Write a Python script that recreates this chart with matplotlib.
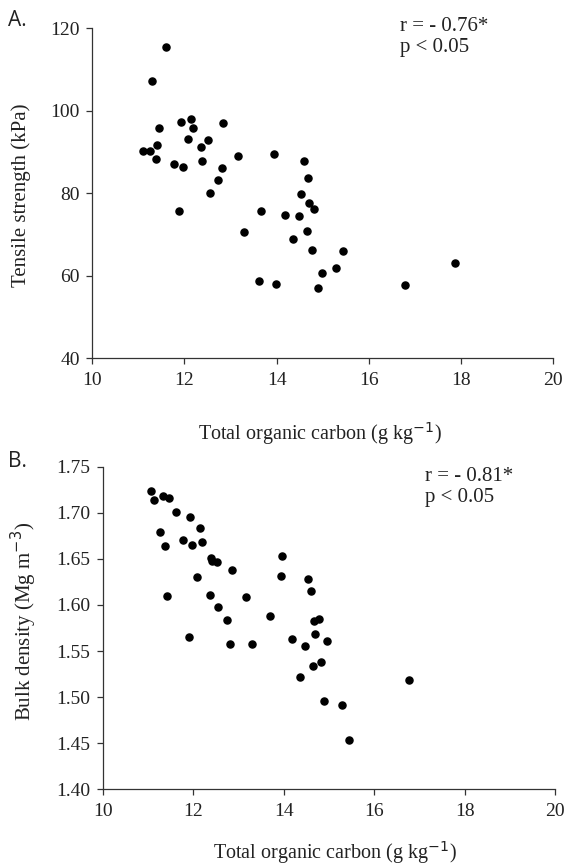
import numpy as np
import matplotlib
matplotlib.use("Agg")
import matplotlib.pyplot as plt

# Panel A: tensile strength vs total organic carbon
toc_a = [11.60, 11.30, 11.45, 11.92, 12.15, 12.18, 12.84, 12.08, 12.52, 12.36,
         11.40, 11.11, 11.26, 11.38, 11.77, 11.97, 12.39, 13.16, 12.81, 12.73,
         12.55, 13.95, 14.60, 14.67, 14.52, 14.69, 14.81, 11.89, 13.67, 14.19,
         14.48, 14.65, 13.30, 14.35, 14.77, 15.43, 15.28, 14.98, 13.62, 13.98,
         14.89, 17.87, 16.78]
tensile = [115.4, 107.3, 95.8, 97.3, 97.9, 95.8, 97.1, 93.2, 92.9, 91.3,
           91.8, 90.3, 90.3, 88.4, 87.2, 86.4, 87.8, 89.0, 86.1, 83.3,
           80.1, 89.5, 87.8, 83.6, 79.8, 77.7, 76.1, 75.8, 75.8, 74.7,
           74.6, 70.9, 70.5, 69.0, 66.2, 66.0, 61.8, 60.6, 58.8, 58.1,
           57.0, 63.2, 57.8]

# Panel B: bulk density vs total organic carbon
toc_b = [11.07, 11.13, 11.33, 11.46, 11.61, 11.93, 12.15, 11.26, 11.78, 11.98,
         12.19, 11.38, 12.39, 12.42, 12.52, 12.86, 12.09, 13.96, 13.95, 14.53,
         14.60, 11.42, 12.37, 13.16, 12.56, 13.69, 12.74, 14.67, 14.78, 14.70,
         11.90, 14.19, 12.82, 13.31, 14.48, 14.97, 14.82, 14.65, 14.36, 14.90,
         15.29, 15.44, 16.78]
bulk = [1.724, 1.714, 1.718, 1.716, 1.701, 1.695, 1.683, 1.679, 1.670, 1.665,
        1.668, 1.664, 1.651, 1.648, 1.647, 1.638, 1.630, 1.653, 1.631, 1.628,
        1.615, 1.610, 1.611, 1.609, 1.598, 1.588, 1.584, 1.583, 1.585, 1.569,
        1.565, 1.563, 1.558, 1.558, 1.556, 1.561, 1.538, 1.534, 1.522, 1.496,
        1.492, 1.453, 1.519]

x_ticks = [10, 12, 14, 16, 18, 20]
a_ticks = [40, 60, 80, 100, 120]
b_ticks = [1.40, 1.45, 1.50, 1.55, 1.60, 1.65, 1.70, 1.75]

plt.rcParams['font.family'] = ['Liberation Serif', 'DejaVu Serif']
txt = '#222222'

fig = plt.figure(figsize=(5.68, 8.67), dpi=100)
ax1 = fig.add_axes([0.1625, 0.5867, 0.8116, 0.3807])
ax2 = fig.add_axes([0.1808, 0.0896, 0.7963, 0.3721])

def style(ax):
    for s in ['top', 'right']:
        ax.spines[s].set_visible(False)
    for s in ['left', 'bottom']:
        ax.spines[s].set_color('#333333')
        ax.spines[s].set_linewidth(0.9)
    ax.tick_params(direction='out', length=4, width=0.9, color='#333333',
                   labelsize=14, labelcolor=txt)
    ax.tick_params(axis='x', pad=6)
    ax.tick_params(axis='y', pad=5)

ax1.scatter(toc_a, tensile, s=26, color='black', zorder=3)
ax1.set_xlim(10, 20)
ax1.set_ylim(40, 120)
ax1.set_xticks(x_ticks)
ax1.set_yticks(a_ticks)
style(ax1)
ax1.set_xlabel('Total organic carbon (g kg$^{-1}$)', fontsize=14.5, color=txt)
ax1.xaxis.set_label_coords(0.494, -0.187)
ax1.set_ylabel('Tensile strength (kPa)', fontsize=15, color=txt)
ax1.yaxis.set_label_coords(-0.133, 0.495)
ax1.text(0.667, 1.034, 'r = - 0.76*\np < 0.05', transform=ax1.transAxes,
         fontsize=15, color=txt, va='top', ha='left', linespacing=1.15)

ax2.scatter(toc_b, bulk, s=26, color='black', zorder=3)
ax2.set_xlim(10, 20)
ax2.set_ylim(1.40, 1.75)
ax2.set_xticks(x_ticks)
ax2.set_yticks(b_ticks)
ax2.set_yticklabels([f'{t:.2f}' for t in b_ticks])
style(ax2)
ax2.set_xlabel('Total organic carbon (g kg$^{-1}$)', fontsize=14.5, color=txt)
ax2.xaxis.set_label_coords(0.514, -0.153)
ax2.set_ylabel('Bulk density (Mg m$^{-3}$)', fontsize=15, color=txt)
ax2.yaxis.set_label_coords(-0.141, 0.52)
ax2.text(0.713, 1.0, 'r = - 0.81*\np < 0.05', transform=ax2.transAxes,
         fontsize=15, color=txt, va='top', ha='left', linespacing=1.15)

fig.text(0.014, 0.976, 'A.', fontsize=15, family='Open Sans', color='#222222', va='center')
fig.text(0.014, 0.468, 'B.', fontsize=15, family='Open Sans', color='#222222', va='center')

fig.savefig('out.png', dpi=100)
